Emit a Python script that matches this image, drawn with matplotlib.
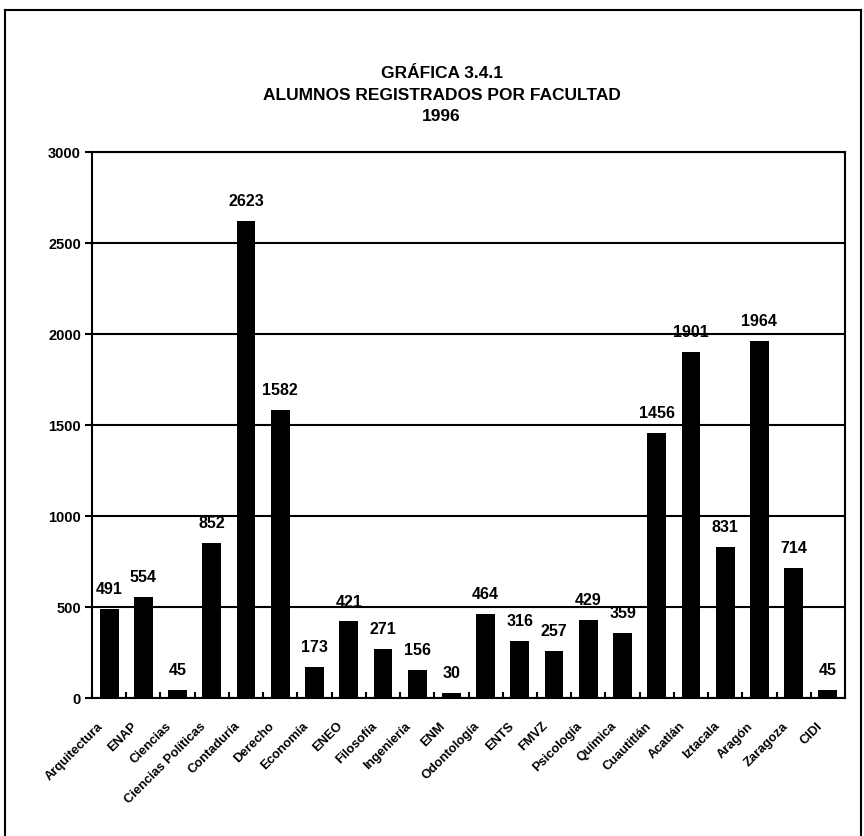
#!/usr/bin/env python3

import numpy as np
from matplotlib import rcParams
rcParams["backend"] = "Agg"
import matplotlib.pyplot as plt
from matplotlib.lines import Line2D
from matplotlib.transforms import ScaledTranslation

facultades = ["Arquitectura", "ENAP", "Ciencias", "Ciencias Políticas", "Contaduría",
	"Derecho", "Economía", "ENEO", "Filosofía", "Ingeniería", "ENM", "Odontología",
	"ENTS", "FMVZ", "Psicología", "Química", "Cuautitlán", "Acatlán", "Iztacala",
	"Aragón", "Zaragoza", "CIDI"]
alumnos = [491, 554, 45, 852, 2623, 1582, 173, 421, 271, 156, 30, 464,
	316, 257, 429, 359, 1456, 1901, 831, 1964, 714, 45]
yticks = [0, 500, 1000, 1500, 2000, 2500, 3000]

plt.rcParams["font.family"] = ["Liberation Sans", "DejaVu Sans"]
plt.rcParams["font.weight"] = "bold"

fig = plt.figure(figsize=(8.64, 8.36), dpi=100)
ax = fig.add_axes([0.1065, 0.165, 0.8715, 0.653])

x = np.arange(len(facultades))
ax.bar(x, alumnos, width=0.55, color="black", zorder=3)
for xi, v in zip(x, alumnos):
	ax.text(xi, v + 65, str(v), ha="center", va="bottom", fontsize=11.5, fontweight="bold")

ax.set_xlim(-0.5, len(facultades) - 0.5)
ax.set_ylim(0, 3000)
ax.set_yticks(yticks)
ax.set_yticklabels([str(t) for t in yticks], fontsize=10.5, fontweight="bold")
ax.yaxis.grid(True, color="black", linewidth=1.5, zorder=1)
ax.set_axisbelow(True)
ax.tick_params(axis="y", direction="out", length=5, width=1.5, pad=3)

ax.set_xticks(x)
ax.set_xticklabels(facultades, rotation=45, ha="right", rotation_mode="anchor",
	fontsize=9.3, fontweight="bold")
ax.tick_params(axis="x", length=0, pad=16)
shift = ScaledTranslation(-0.12, 0, fig.dpi_scale_trans)
for lbl in ax.get_xticklabels():
	lbl.set_transform(lbl.get_transform() + shift)
ax.set_xticks(np.arange(len(facultades) + 1) - 0.5, minor=True)
ax.tick_params(axis="x", which="minor", direction="in", length=4, width=1.5)

for s in ax.spines.values():
	s.set_linewidth(1.5)

fig.text(0.511, 0.912, "GRÁFICA 3.4.1", ha="center", va="center", fontsize=12.5, fontweight="bold")
fig.text(0.511, 0.886, "ALUMNOS REGISTRADOS POR FACULTAD", ha="center", va="center", fontsize=12.5, fontweight="bold")
fig.text(0.511, 0.861, "1996", ha="center", va="center", fontsize=12.5, fontweight="bold")

# marco exterior (sin borde inferior)
fig.add_artist(Line2D([0.006, 0.006], [0.0, 0.988], color="black", linewidth=1.5))
fig.add_artist(Line2D([0.006, 0.997], [0.988, 0.988], color="black", linewidth=1.5))
fig.add_artist(Line2D([0.997, 0.997], [0.0, 0.988], color="black", linewidth=1.5))

fig.savefig("out.png", dpi=100)
